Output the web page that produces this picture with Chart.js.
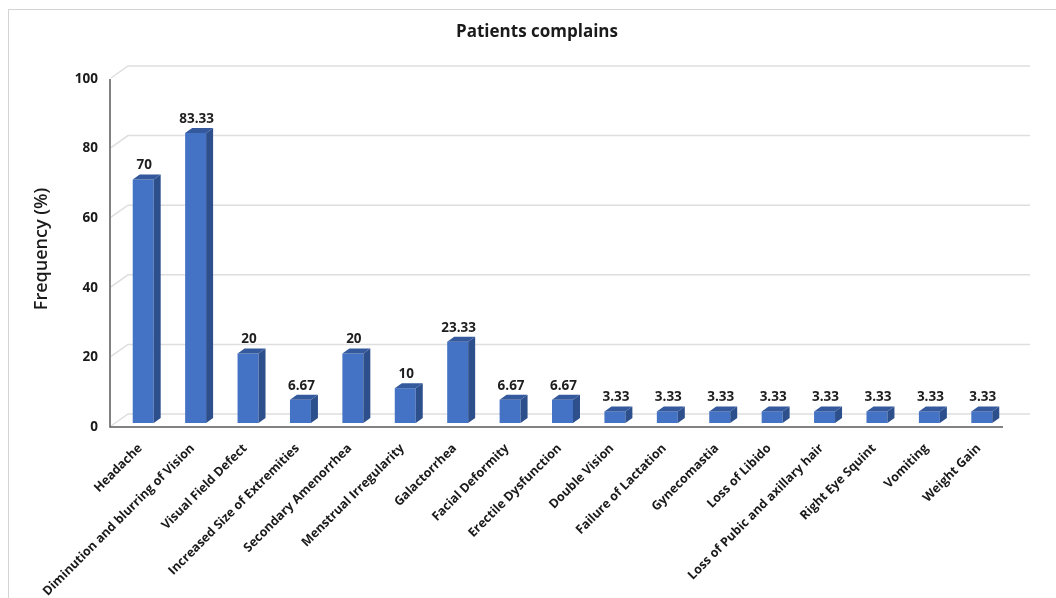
<!DOCTYPE html>
<html><head><meta charset="utf-8">
<script src="https://cdn.jsdelivr.net/npm/chart.js@4.4.1/dist/chart.umd.min.js"></script>
<style>
html,body{margin:0;padding:0;width:1056px;height:598px;overflow:hidden;background:#fff;}
#wrap{position:absolute;left:0;top:0;width:1076px;height:598px;}
#frame{position:absolute;left:8px;top:9px;width:1100px;height:700px;border-left:1px solid #d4d4d4;border-top:1px solid #d4d4d4;pointer-events:none;}
</style></head>
<body>
<div id="wrap"><canvas id="c" width="1076" height="598"></canvas></div>
<div id="frame"></div>
<script>
const chartTitle = "Patients complains";
const yAxisTitle = "Frequency (%)";
const categories = ["Headache","Diminution and blurring of Vision","Visual Field Defect","Increased Size of Extremities","Secondary Amenorrhea","Menstrual Irregularity","Galactorrhea","Facial Deformity","Erectile Dysfunction","Double Vision","Failure of Lactation","Gynecomastia","Loss of Libido","Loss of Pubic and axillary hair","Right Eye Squint","Vomiting","Weight Gain"];
const frequency = [70, 83.33, 20, 6.67, 20, 10, 23.33, 6.67, 6.67, 3.33, 3.33, 3.33, 3.33, 3.33, 3.33, 3.33, 3.33];
const valueLabels = ["70","83.33","20","6.67","20","10","23.33","6.67","6.67","3.33","3.33","3.33","3.33","3.33","3.33","3.33","3.33"];
const yTicks = [0, 20, 40, 60, 80, 100];

const FONT = "'Open Sans', 'DejaVu Sans', sans-serif";
const DX = 7, DY = -5;

const threeD = {
  id: 'threeD',
  beforeDatasetsDraw(chart) {
    const {ctx, chartArea: a, scales: {y}} = chart;
    ctx.save();
    ctx.strokeStyle = '#dedede';
    ctx.lineWidth = 1.5;
    yTicks.forEach(v => {
      const yy = y.getPixelForValue(v);
      ctx.beginPath();
      ctx.moveTo(a.left - 6, yy + 3);
      ctx.lineTo(a.left + 11, yy - 9);
      ctx.lineTo(a.right + 22, yy - 9);
      ctx.stroke();
    });
    ctx.strokeStyle = '#5a5a5a';
    ctx.lineWidth = 1.5;
    ctx.beginPath();
    ctx.moveTo(a.left - 7, y.getPixelForValue(100) + 4);
    ctx.lineTo(a.left - 7, a.bottom + 4);
    ctx.lineTo(a.right - 5, a.bottom + 4);
    ctx.stroke();
    // chart title
    ctx.fillStyle = '#1a1a1a';
    ctx.font = "bold 17px " + FONT;
    ctx.textAlign = 'center';
    ctx.textBaseline = 'middle';
    ctx.fillText(chartTitle, 537, 32);
    ctx.restore();
  },
  afterDatasetsDraw(chart) {
    const {ctx} = chart;
    const meta = chart.getDatasetMeta(0);
    ctx.save();
    meta.data.forEach((bar, i) => {
      const w = bar.width, l = bar.x - w / 2, r = bar.x + w / 2, t = bar.y, b = bar.base;
      ctx.fillStyle = '#2d4f8c';
      ctx.beginPath();
      ctx.moveTo(r, t); ctx.lineTo(r + DX, t + DY); ctx.lineTo(r + DX, b + DY); ctx.lineTo(r, b);
      ctx.closePath(); ctx.fill();
      ctx.fillStyle = '#34599c';
      ctx.beginPath();
      ctx.moveTo(l, t); ctx.lineTo(l + DX, t + DY); ctx.lineTo(r + DX, t + DY); ctx.lineTo(r, t);
      ctx.closePath(); ctx.fill();
      ctx.fillStyle = '#1e1e1e';
      ctx.font = "bold 13.5px " + FONT;
      ctx.textAlign = 'center';
      ctx.textBaseline = 'middle';
      ctx.fillText(valueLabels[i], bar.x + 1, t - 14);
    });
    ctx.restore();
  }
};

new Chart(document.getElementById('c'), {
  type: 'bar',
  data: {
    labels: categories,
    datasets: [{
      data: frequency,
      backgroundColor: '#4472C4',
      borderWidth: 0,
      barPercentage: 0.4,
      categoryPercentage: 1.0
    }]
  },
  options: {
    responsive: false,
    animation: false,
    events: [],
    layout: {padding: {left: 0, right: 68, top: 75, bottom: 0}},
    plugins: {
      legend: {display: false},
      tooltip: {enabled: false},
      title: {display: false, text: chartTitle}
    },
    scales: {
      x: {
        grid: {display: false, drawTicks: false},
        border: {display: false},
        ticks: {
          autoSkip: false,
          minRotation: 45,
          maxRotation: 45,
          padding: 18,
          labelOffset: -3,
          color: '#1a1a1a',
          font: {family: FONT, size: 12.5, weight: 'bold'}
        },
        afterFit(s) { s.height = 175; }
      },
      y: {
        min: 0,
        max: 100,
        afterBuildTicks(s) { s.ticks = yTicks.map(v => ({value: v})); },
        grid: {display: false, drawTicks: false},
        border: {display: false},
        ticks: {
          padding: 19,
          labelOffset: 4,
          color: '#1a1a1a',
          font: {family: FONT, size: 13.5, weight: 'bold'}
        },
        title: {
          display: true,
          text: yAxisTitle,
          color: '#1a1a1a',
          font: {family: FONT, size: 18, weight: '600'},
          padding: {top: 31, bottom: 0}
        },
        afterFit(s) { s.width = 117; }
      }
    }
  },
  plugins: [threeD]
});
</script>
</body></html>
